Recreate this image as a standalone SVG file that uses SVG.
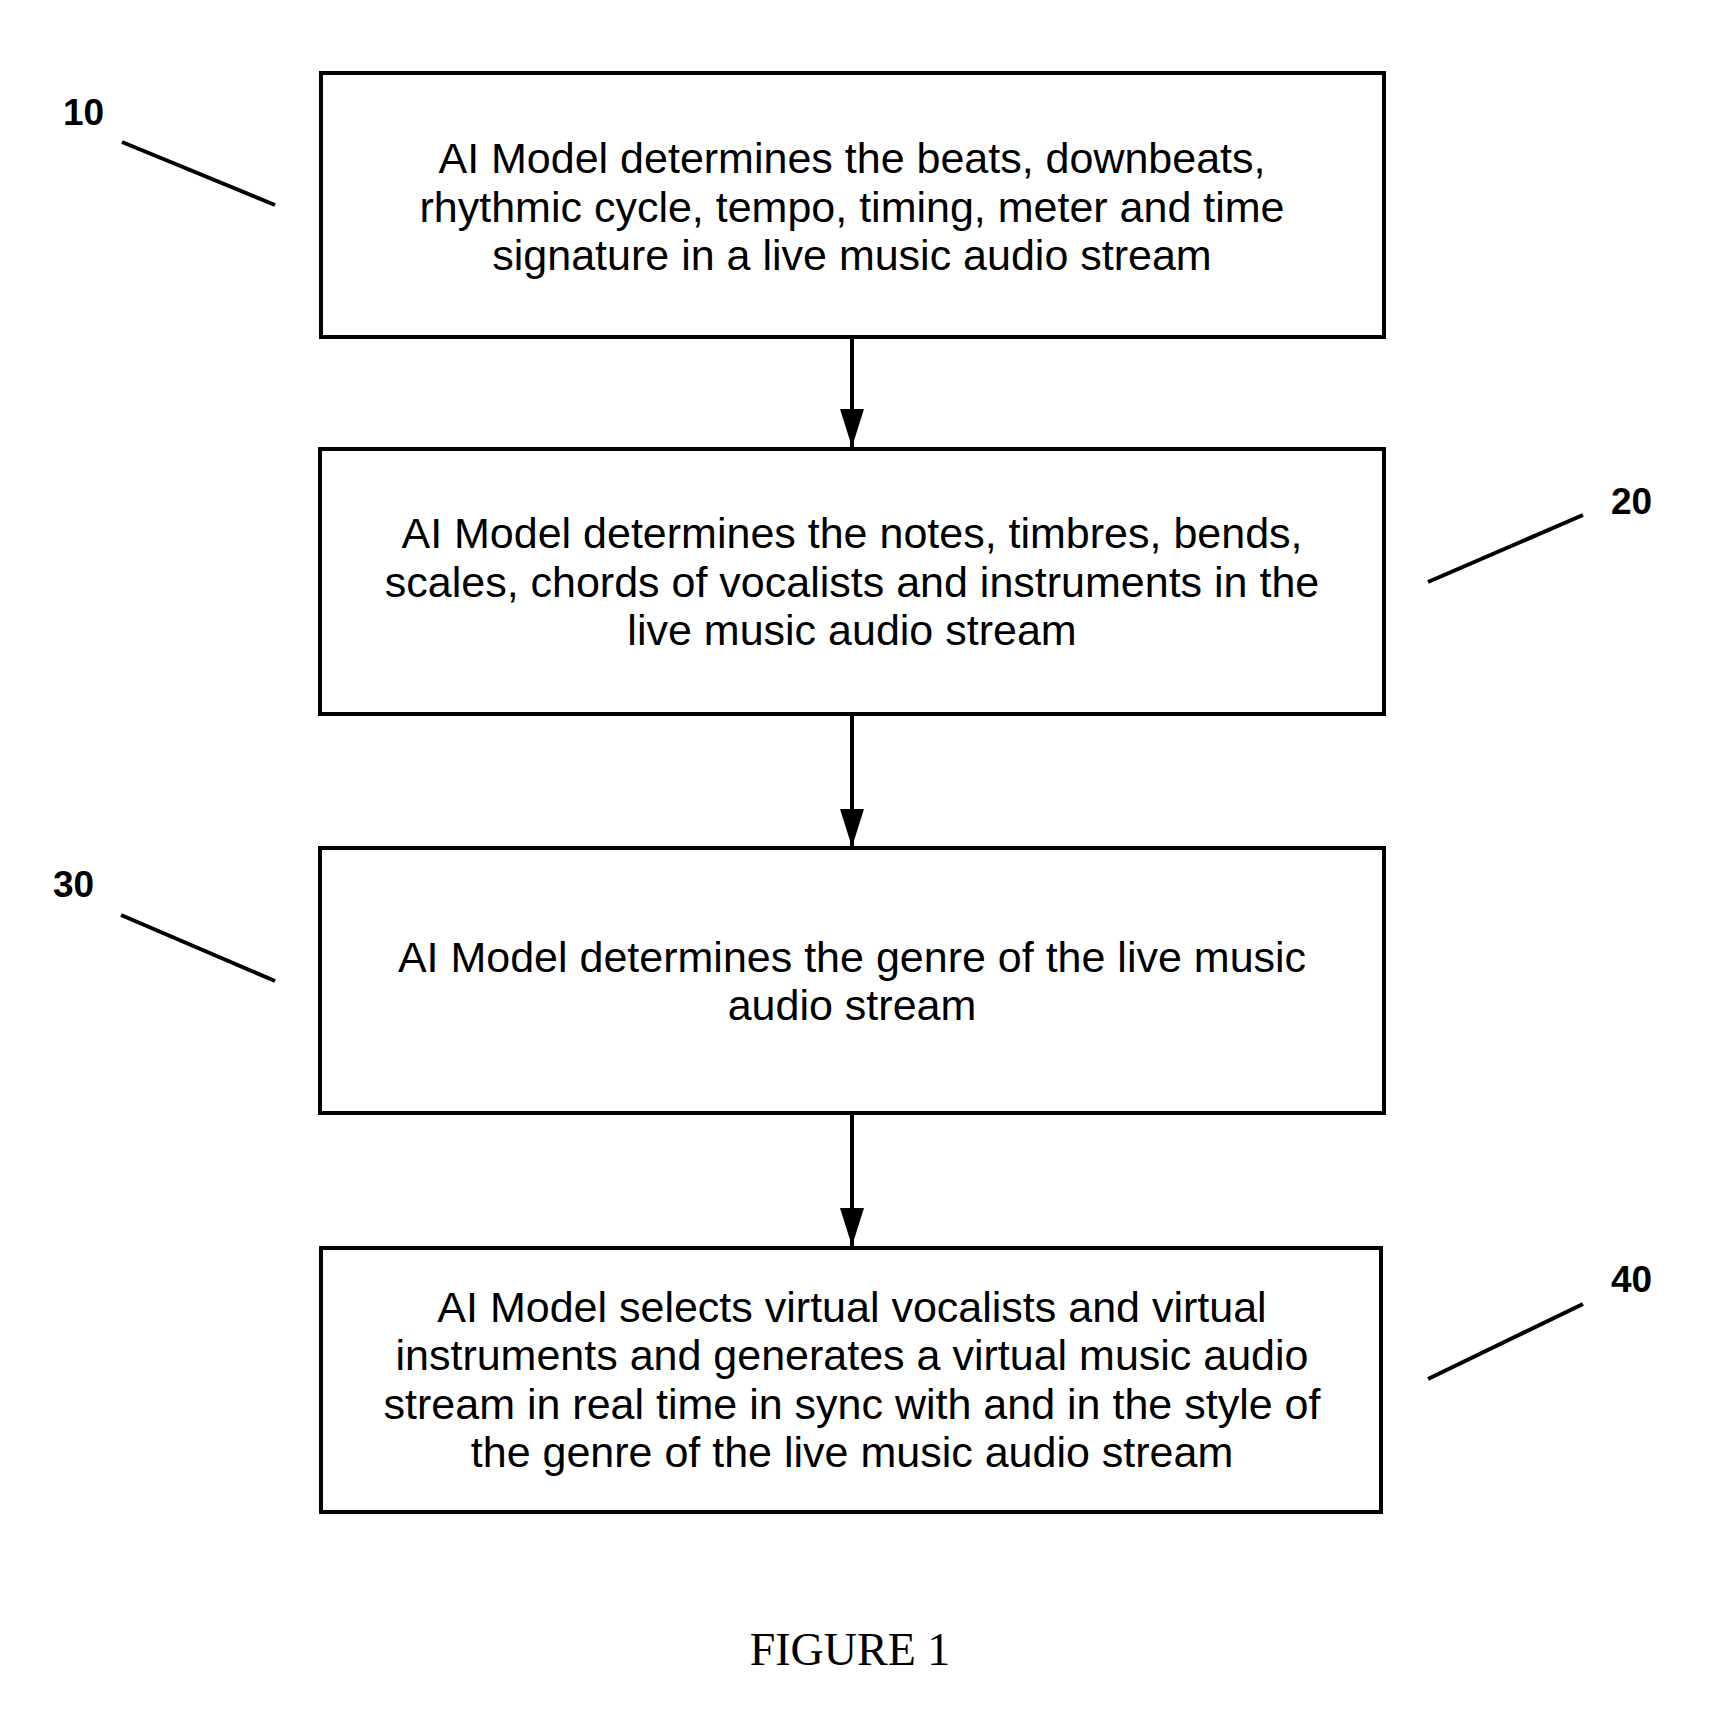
<svg xmlns="http://www.w3.org/2000/svg" width="1724" height="1735" viewBox="0 0 1724 1735">
<style>
.box{fill:#fff;stroke:#000;stroke-width:4}
.t{font-family:"Liberation Sans",Arial,sans-serif;font-size:43px;fill:#000;text-anchor:middle}
.ref{font-family:"Liberation Sans",Arial,sans-serif;font-size:37px;font-weight:bold;fill:#000}
.lead{stroke:#000;stroke-width:4;fill:none}
.conn{stroke:#000;stroke-width:4;fill:none}
.fig{font-family:"Liberation Serif","Times New Roman",serif;font-size:46px;fill:#000;text-anchor:middle}
</style>
<defs>
<marker id="arr" markerUnits="userSpaceOnUse" markerWidth="38" markerHeight="24" refX="38" refY="12" viewBox="0 0 38 24" orient="auto">
<path d="M0,0 L38,12 L0,24 Z" fill="#000"/>
</marker>
</defs>
<rect width="1724" height="1735" fill="#fff"/>
<g id="connectors">
<line class="conn" x1="852" y1="337" x2="852" y2="447" marker-end="url(#arr)"/>
<line class="conn" x1="852" y1="714" x2="852" y2="847" marker-end="url(#arr)"/>
<line class="conn" x1="852" y1="1113" x2="852" y2="1246" marker-end="url(#arr)"/>
</g>
<g id="node10">
<rect class="box" x="321" y="73" width="1063" height="264"/>
<text class="t" x="852" y="173">AI Model determines the beats, downbeats,</text>
<text class="t" x="852" y="221.5">rhythmic cycle, tempo, timing, meter and time</text>
<text class="t" x="852" y="270">signature in a live music audio stream</text>
</g>
<g id="node20">
<rect class="box" x="320" y="449" width="1064" height="265"/>
<text class="t" x="852" y="548">AI Model determines the notes, timbres, bends,</text>
<text class="t" x="852" y="596.5">scales, chords of vocalists and instruments in the</text>
<text class="t" x="852" y="645">live music audio stream</text>
</g>
<g id="node30">
<rect class="box" x="320" y="848" width="1064" height="265"/>
<text class="t" x="852" y="971.5">AI Model determines the genre of the live music</text>
<text class="t" x="852" y="1020">audio stream</text>
</g>
<g id="node40">
<rect class="box" x="321" y="1248" width="1060" height="264"/>
<text class="t" x="852" y="1321.5">AI Model selects virtual vocalists and virtual</text>
<text class="t" x="852" y="1370">instruments and generates a virtual music audio</text>
<text class="t" x="852" y="1418.5">stream in real time in sync with and in the style of</text>
<text class="t" x="852" y="1467">the genre of the live music audio stream</text>
</g>
<g id="labels">
<text class="ref" x="63" y="125">10</text>
<line class="lead" x1="122" y1="142" x2="275" y2="205"/>
<text class="ref" x="1611" y="514">20</text>
<line class="lead" x1="1428" y1="582" x2="1583" y2="515"/>
<text class="ref" x="53" y="897">30</text>
<line class="lead" x1="121" y1="915" x2="275" y2="981"/>
<text class="ref" x="1611" y="1292">40</text>
<line class="lead" x1="1428" y1="1379" x2="1583" y2="1304"/>
</g>
<text class="fig" x="850" y="1665">FIGURE 1</text>
</svg>
